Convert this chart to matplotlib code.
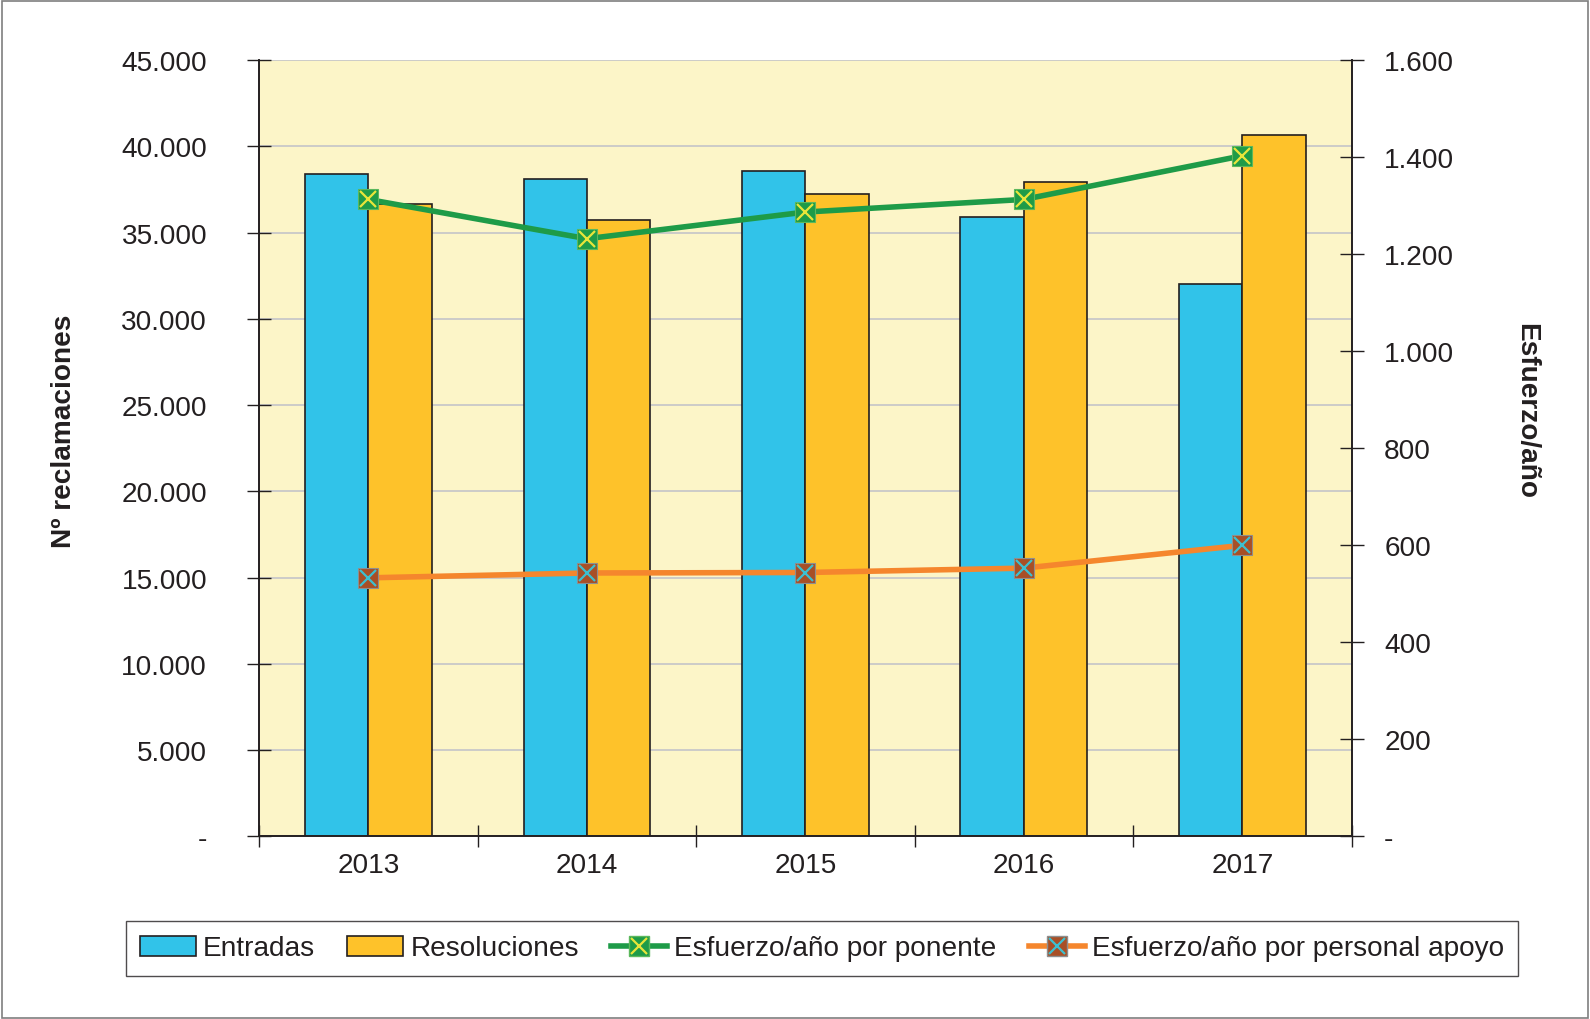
import matplotlib.pyplot as plt
import matplotlib.ticker as mticker
from matplotlib.lines import Line2D
from matplotlib.patches import Patch, Rectangle
import numpy as np

plt.rcParams['font.family'] = ['Liberation Sans', 'DejaVu Sans']

years = ["2013", "2014", "2015", "2016", "2017"]
entradas = [38400, 38100, 38550, 35900, 32050]
resoluciones = [36650, 35750, 37250, 37950, 40650]
esf_ponente = [1313, 1232, 1287, 1313, 1403]
esf_apoyo = [533, 543, 544, 553, 600]

C_ENT = "#31C3E9"
C_RES = "#FEC22A"
C_BG = "#FCF5C8"
C_GREEN = "#1E9B48"
C_ORANGE = "#F5862D"
C_TXT = "#231F20"
FS = 20.2


def fmt_thousands(v, pos):
    if abs(v) < 1e-9:
        return "-"
    return "{:,.0f}".format(v).replace(",", ".")


fig = plt.figure(figsize=(15.9, 10.2), dpi=100)
ax = fig.add_axes([0.163, 0.179, 0.687, 0.761])
ax.set_facecolor(C_BG)
ax2 = ax.twinx()

x = np.arange(len(years))
w = 0.29
ax.bar(x - w / 2, entradas, w, color=C_ENT, edgecolor="#231F20", linewidth=1.2, zorder=3)
ax.bar(x + w / 2, resoluciones, w, color=C_RES, edgecolor="#231F20", linewidth=1.2, zorder=3)

ax.set_xlim(-0.5, len(years) - 0.5)
ax.set_ylim(0, 45000)
ax.yaxis.set_major_locator(mticker.MultipleLocator(5000))
ax.yaxis.set_major_formatter(mticker.FuncFormatter(fmt_thousands))
ax.grid(axis="y", color="#C8C8C8", linewidth=1.3, zorder=0)
ax.set_axisbelow(True)

# category boundaries carry tick marks, centres carry labels
ax.set_xticks(np.arange(-0.5, len(years), 1.0))
ax.set_xticklabels([])
ax.set_xticks(x, minor=True)
ax.set_xticklabels(years, minor=True)
ax.tick_params(axis="x", which="major", direction="inout", length=16, width=1, color="#231F20")
ax.tick_params(axis="x", which="minor", length=0, pad=11, labelsize=FS, labelcolor=C_TXT)
ax.tick_params(axis="y", direction="inout", length=17, width=1, color="#231F20",
               pad=29, labelsize=FS, labelcolor=C_TXT)

ax2.set_ylim(0, 1600)
ax2.yaxis.set_major_locator(mticker.MultipleLocator(200))
ax2.yaxis.set_major_formatter(mticker.FuncFormatter(fmt_thousands))
ax2.tick_params(axis="y", direction="inout", length=17, width=1, color="#231F20",
                pad=15, labelsize=FS, labelcolor=C_TXT)

for a in (ax, ax2):
    a.spines["top"].set_visible(False)
    for s in ("left", "right", "bottom"):
        a.spines[s].set_color("#231F20")
        a.spines[s].set_linewidth(1.2)

ax2.plot(x, esf_ponente, color=C_GREEN, linewidth=4, zorder=4)
ax2.plot(x, esf_ponente, linestyle="none", marker="s", markersize=15,
         markerfacecolor=C_GREEN, markeredgecolor="#5CB85C", markeredgewidth=0.8, zorder=5)
ax2.plot(x, esf_ponente, linestyle="none", marker="x", markersize=12,
         markeredgecolor="#E8E53A", markeredgewidth=1.6, zorder=6)

ax2.plot(x, esf_apoyo, color=C_ORANGE, linewidth=4, zorder=4)
ax2.plot(x, esf_apoyo, linestyle="none", marker="s", markersize=15,
         markerfacecolor="#A84F26", markeredgecolor="#8E8E8E", markeredgewidth=0.8, zorder=5)
ax2.plot(x, esf_apoyo, linestyle="none", marker="x", markersize=12,
         markeredgecolor="#3CC0D0", markeredgewidth=1.6, zorder=6)

ax.set_ylabel("Nº reclamaciones", fontsize=FS, fontweight="bold", color=C_TXT)
ax.yaxis.set_label_coords(-0.167, 0.523)
ax2.set_ylabel("Esfuerzo/año", fontsize=FS, fontweight="bold", color=C_TXT, rotation=270)
ax2.yaxis.set_label_coords(1.172, 0.549)

# legend
h_ent = Patch(facecolor=C_ENT, edgecolor="#231F20", linewidth=1.2)
h_res = Patch(facecolor=C_RES, edgecolor="#231F20", linewidth=1.2)
h_pon = (Line2D([], [], color=C_GREEN, linewidth=4, marker="s", markersize=14,
                markerfacecolor=C_GREEN, markeredgecolor="#5CB85C"),
         Line2D([], [], linestyle="none", marker="x", markersize=11,
                markeredgecolor="#E8E53A", markeredgewidth=1.6))
h_apo = (Line2D([], [], color=C_ORANGE, linewidth=4, marker="s", markersize=14,
                markerfacecolor="#A84F26", markeredgecolor="#8E8E8E"),
         Line2D([], [], linestyle="none", marker="x", markersize=11,
                markeredgecolor="#3CC0D0", markeredgewidth=1.6))
leg = fig.legend([h_ent, h_res, h_pon, h_apo],
                 ["Entradas", "Resoluciones", "Esfuerzo/año por ponente",
                  "Esfuerzo/año por personal apoyo"],
                 loc="center", bbox_to_anchor=(822 / 1590, 1 - 949.5 / 1020), ncol=4,
                 fontsize=FS, frameon=True, fancybox=False, handlelength=2.0,
                 handletextpad=0.25, columnspacing=1.15, borderpad=0.5)
leg.get_frame().set_edgecolor("#231F20")
leg.get_frame().set_linewidth(1.0)
for t in leg.get_texts():
    t.set_color(C_TXT)

# outer frame of the figure
fig.patches.append(Rectangle((0.001, 0.001), 0.998, 0.997, transform=fig.transFigure,
                             fill=False, edgecolor="#7F7F7F", linewidth=1.2))

fig.savefig("out.png", dpi=100, facecolor="white")
